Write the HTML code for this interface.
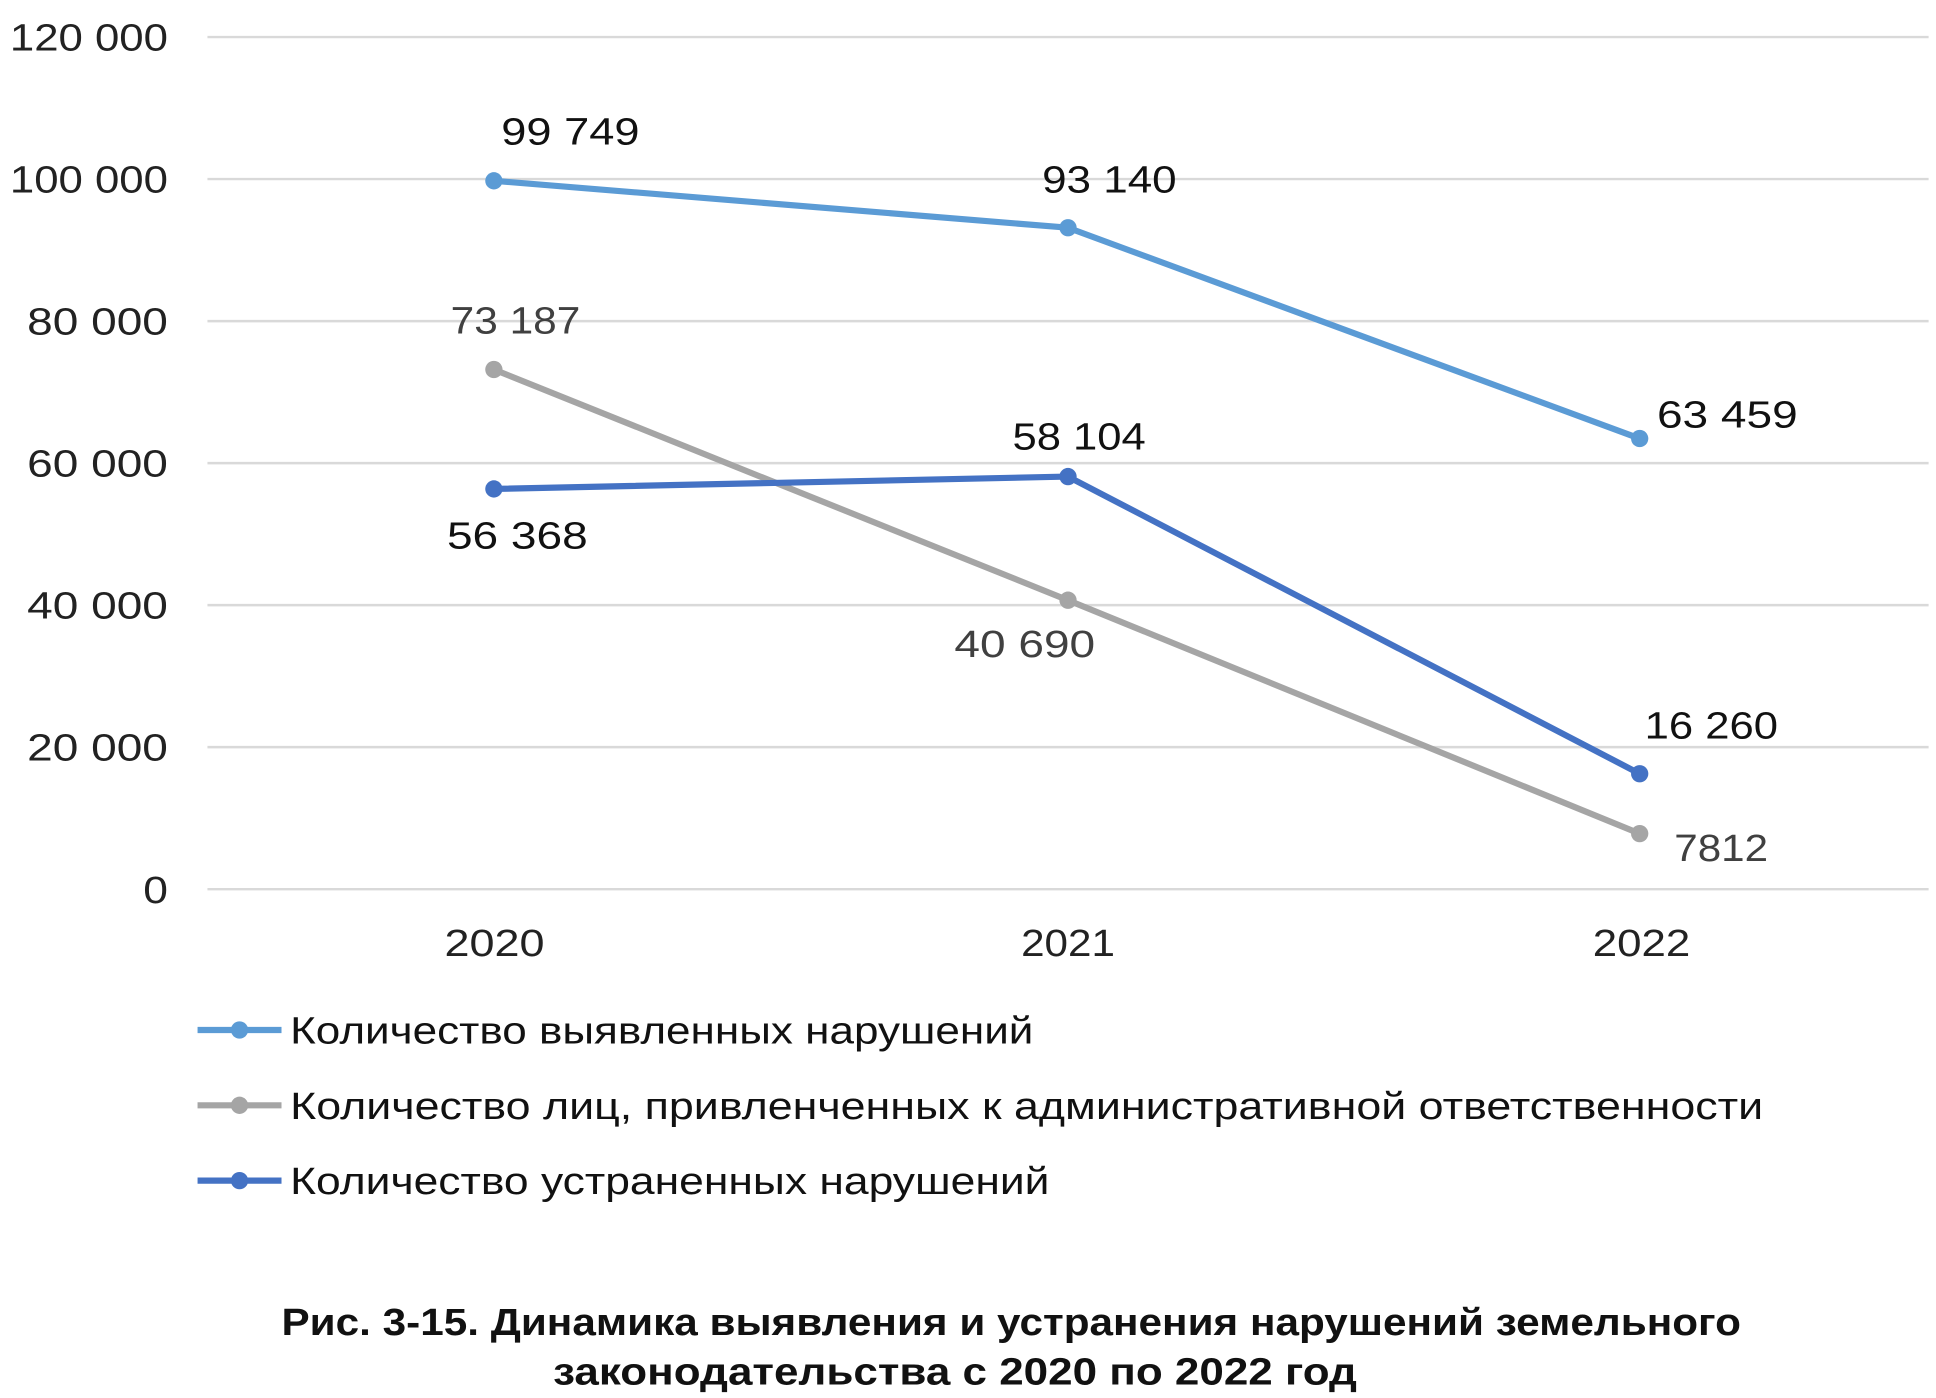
<!DOCTYPE html>
<html><head><meta charset="utf-8"><style>
html,body{margin:0;padding:0;background:#fff;width:1936px;height:1398px;overflow:hidden}
svg{display:block}
text{font-family:"Liberation Sans",sans-serif}
</style></head><body>
<svg width="1936" height="1398" viewBox="0 0 1568 1132" preserveAspectRatio="none">
<g stroke="#d9d9d9" stroke-width="2">
<line x1="168" y1="30" x2="1562" y2="30"/>
<line x1="168" y1="145" x2="1562" y2="145"/>
<line x1="168" y1="260" x2="1562" y2="260"/>
<line x1="168" y1="375" x2="1562" y2="375"/>
<line x1="168" y1="490" x2="1562" y2="490"/>
<line x1="168" y1="605" x2="1562" y2="605"/>
<line x1="168" y1="720" x2="1562" y2="720"/>
</g>
<g font-size="31" fill="#222" lengthAdjust="spacingAndGlyphs">
<text x="8" y="41" textLength="128" lengthAdjust="spacingAndGlyphs">120 000</text>
<text x="8" y="156" textLength="128" lengthAdjust="spacingAndGlyphs">100 000</text>
<text x="22" y="271" textLength="114" lengthAdjust="spacingAndGlyphs">80 000</text>
<text x="22" y="386" textLength="114" lengthAdjust="spacingAndGlyphs">60 000</text>
<text x="22" y="501" textLength="114" lengthAdjust="spacingAndGlyphs">40 000</text>
<text x="22" y="616" textLength="114" lengthAdjust="spacingAndGlyphs">20 000</text>
<text x="116" y="731" textLength="20" lengthAdjust="spacingAndGlyphs">0</text>
</g>
<g font-size="31" fill="#222">
<text x="360" y="774" textLength="81" lengthAdjust="spacingAndGlyphs">2020</text>
<text x="827" y="774" textLength="76" lengthAdjust="spacingAndGlyphs">2021</text>
<text x="1290" y="774" textLength="79" lengthAdjust="spacingAndGlyphs">2022</text>
</g>
<g fill="none" stroke-width="5" stroke-linejoin="round">
<polyline stroke="#5b9bd5" points="400,146.4 865,184.4 1328,355.1"/>
<polyline stroke="#a5a5a5" points="400,299.2 865,486 1328,675"/>
<polyline stroke="#4472c4" points="400,395.9 865,385.9 1328,626.5"/>
</g>
<g fill="#5b9bd5"><circle cx="400" cy="146.4" r="7"/><circle cx="865" cy="184.4" r="7"/><circle cx="1328" cy="355.1" r="7"/></g>
<g fill="#a5a5a5"><circle cx="400" cy="299.2" r="7"/><circle cx="865" cy="486" r="7"/><circle cx="1328" cy="675" r="7"/></g>
<g fill="#4472c4"><circle cx="400" cy="395.9" r="7"/><circle cx="865" cy="385.9" r="7"/><circle cx="1328" cy="626.5" r="7"/></g>
<g font-size="31" fill="#111">
<text x="406" y="117" textLength="112" lengthAdjust="spacingAndGlyphs">99 749</text>
<text x="844" y="156" textLength="109" lengthAdjust="spacingAndGlyphs">93 140</text>
<text x="1342" y="346" textLength="114" lengthAdjust="spacingAndGlyphs">63 459</text>
<text x="820" y="364" textLength="108" lengthAdjust="spacingAndGlyphs">58 104</text>
<text x="362" y="444" textLength="114" lengthAdjust="spacingAndGlyphs">56 368</text>
<text x="1332" y="598" textLength="108" lengthAdjust="spacingAndGlyphs">16 260</text>
</g>
<g font-size="31" fill="#404040">
<text x="365" y="270" textLength="105" lengthAdjust="spacingAndGlyphs">73 187</text>
<text x="773" y="532" textLength="114" lengthAdjust="spacingAndGlyphs">40 690</text>
<text x="1356" y="697" textLength="76" lengthAdjust="spacingAndGlyphs">7812</text>
</g>
<g stroke-width="5">
<line x1="160" y1="834" x2="228" y2="834" stroke="#5b9bd5"/>
<line x1="160" y1="895" x2="228" y2="895" stroke="#a5a5a5"/>
<line x1="160" y1="956" x2="228" y2="956" stroke="#4472c4"/>
</g>
<circle cx="194" cy="834" r="7" fill="#5b9bd5"/>
<circle cx="194" cy="895" r="7" fill="#a5a5a5"/>
<circle cx="194" cy="956" r="7" fill="#4472c4"/>
<g font-size="31" fill="#111">
<text x="235" y="845" textLength="602" lengthAdjust="spacingAndGlyphs">Количество выявленных нарушений</text>
<text x="235" y="906" textLength="1193" lengthAdjust="spacingAndGlyphs">Количество лиц, привленченных к административной ответственности</text>
<text x="235" y="967" textLength="615" lengthAdjust="spacingAndGlyphs">Количество устраненных нарушений</text>
</g>
<g font-size="31" font-weight="bold" fill="#111">
<text x="228" y="1081" textLength="1182" lengthAdjust="spacingAndGlyphs">Рис. 3-15. Динамика выявления и устранения нарушений земельного</text>
<text x="448" y="1121" textLength="651" lengthAdjust="spacingAndGlyphs">законодательства с 2020 по 2022 год</text>
</g>
</svg>
</body></html>
